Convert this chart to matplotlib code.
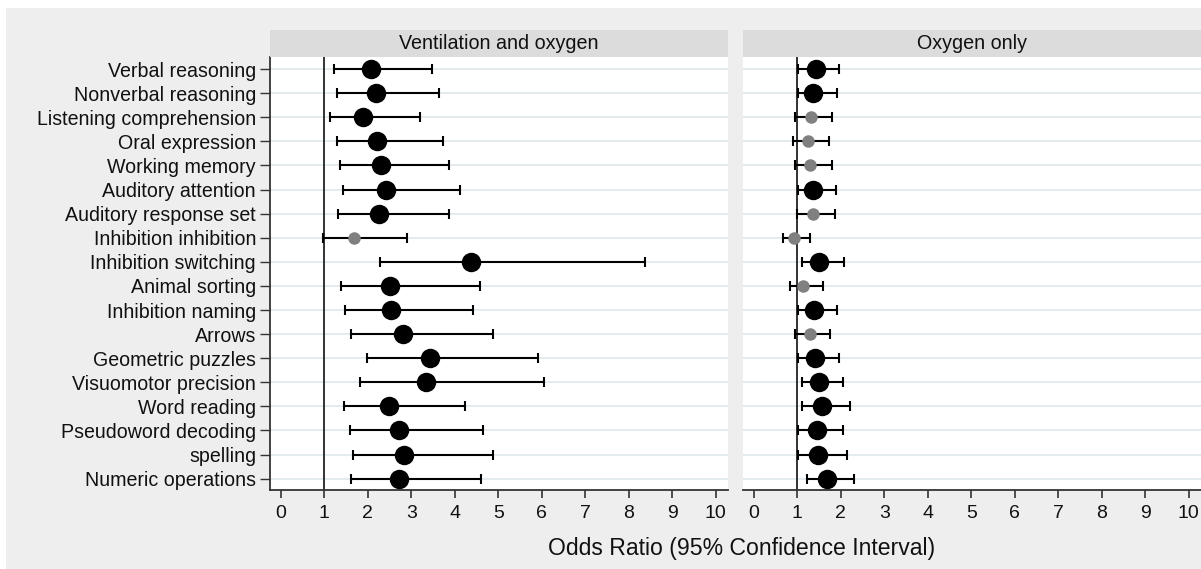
import matplotlib
matplotlib.use("Agg")
import matplotlib.pyplot as plt
from matplotlib.patches import Rectangle
import numpy as np

plt.rcParams['font.family'] = ['Liberation Sans', 'DejaVu Sans']

outcomes = ["Verbal reasoning", "Nonverbal reasoning", "Listening comprehension",
            "Oral expression", "Working memory", "Auditory attention",
            "Auditory response set", "Inhibition inhibition", "Inhibition switching",
            "Animal sorting", "Inhibition naming", "Arrows", "Geometric puzzles",
            "Visuomotor precision", "Word reading", "Pseudoword decoding",
            "spelling", "Numeric operations"]

panels = ["Ventilation and oxygen", "Oxygen only"]

vent_or = [2.07, 2.18, 1.89, 2.20, 2.30, 2.41, 2.25, 1.67, 4.37,
           2.52, 2.54, 2.80, 3.43, 3.33, 2.49, 2.72, 2.82, 2.72]
vent_lo = [1.23, 1.30, 1.12, 1.30, 1.36, 1.42, 1.31, 0.98, 2.28,
           1.39, 1.48, 1.61, 1.99, 1.83, 1.46, 1.59, 1.65, 1.62]
vent_hi = [3.47, 3.64, 3.19, 3.73, 3.87, 4.11, 3.86, 2.89, 8.37,
           4.57, 4.41, 4.87, 5.92, 6.05, 4.24, 4.64, 4.87, 4.61]

oxy_or = [1.42, 1.36, 1.31, 1.24, 1.30, 1.36, 1.35, 0.93, 1.50,
          1.14, 1.39, 1.28, 1.40, 1.49, 1.56, 1.45, 1.47, 1.67]
oxy_lo = [1.01, 1.01, 0.94, 0.90, 0.94, 1.01, 0.99, 0.67, 1.10,
          0.84, 1.01, 0.94, 1.02, 1.10, 1.10, 1.01, 1.02, 1.21]
oxy_hi = [1.95, 1.91, 1.79, 1.73, 1.80, 1.89, 1.86, 1.30, 2.08,
          1.59, 1.91, 1.75, 1.96, 2.05, 2.21, 2.05, 2.14, 2.31]

# significance as shown in the figure (black = significant, gray = not)
vent_sig = [True]*7 + [False] + [True]*10
oxy_sig = [True, True, False, False, False, True, False, False, True,
           False, True, False, True, True, True, True, True, True]

xticks = list(range(0, 11))

W, H = 1201, 569
fig = plt.figure(figsize=(W/100, H/100), dpi=100)
fig.patch.set_facecolor('white')
fig.add_artist(Rectangle((6/W, 0), 1 - 6/W, 1 - 8/H, transform=fig.transFigure,
                         facecolor='#eeeeee', edgecolor='none', zorder=-10))

ax_bottom = (H - 490) / H
ax_height = (490 - 57) / H
strip_h = (57 - 30) / H
lefts = [270 / W, 743 / W]
width = 458 / W

data = [(vent_or, vent_lo, vent_hi, vent_sig), (oxy_or, oxy_lo, oxy_hi, oxy_sig)]
n = len(outcomes)
ypos = np.arange(1, n + 1)

for i, (title, (orv, lo, hi, sig)) in enumerate(zip(panels, data)):
    ax = fig.add_axes([lefts[i], ax_bottom, width, ax_height])
    ax.set_facecolor('white')
    # strip header
    fig.add_artist(Rectangle((lefts[i], ax_bottom + ax_height), width, strip_h,
                             transform=fig.transFigure, facecolor='#dcdcdc',
                             edgecolor='none'))
    fig.text(lefts[i] + width / 2, ax_bottom + ax_height + strip_h / 2, title,
             ha='center', va='center', fontsize=14.2, color='#111111')
    for y in ypos:
        ax.axhline(y, color='#e4ebee', lw=1.4, zorder=0)
    ax.axvline(1, color='#222222', lw=1.3, zorder=1)
    orv = np.array(orv); lo = np.array(lo); hi = np.array(hi); sig = np.array(sig)
    ax.errorbar(orv, ypos, xerr=[orv - lo, hi - orv], fmt='none', ecolor='black',
                elinewidth=1.5, capsize=3.5, capthick=1.5, zorder=2)
    ax.plot(orv[sig], ypos[sig], 'o', color='black', markersize=14, zorder=3, mec='none')
    ax.plot(orv[~sig], ypos[~sig], 'o', color='#808080', markersize=9, zorder=3, mec='none')
    ax.set_xlim(-0.25, 10.28)
    ax.set_ylim(n + 0.47, 0.5)
    ax.set_xticks(xticks)
    ax.set_xticklabels([str(t) for t in xticks], fontsize=14, color='#111111')
    ax.tick_params(axis='x', direction='out', length=6, width=1.2, pad=5, color='#333333')
    for s in ['top', 'right']:
        ax.spines[s].set_visible(False)
    ax.spines['bottom'].set_color('#333333')
    ax.spines['bottom'].set_linewidth(1.3)
    if i == 0:
        ax.set_yticks(ypos)
        ax.set_yticklabels(outcomes, fontsize=14.1, color='#111111')
        ax.tick_params(axis='y', direction='out', length=7, width=1.0, pad=3, color='#333333')
        ax.spines['left'].set_color('#333333')
        ax.spines['left'].set_linewidth(1.3)
    else:
        ax.set_yticks([])
        ax.spines['left'].set_visible(False)

fig.text(742 / W, 1 - 548 / H, "Odds Ratio (95% Confidence Interval)",
         ha='center', va='center', fontsize=16.6, color='#111111')

fig.savefig("out.png", dpi=100, facecolor=fig.get_facecolor())
